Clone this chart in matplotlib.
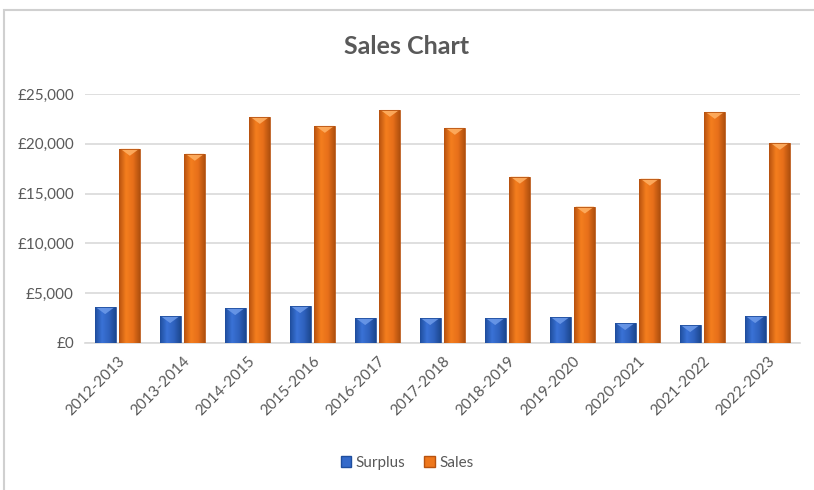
import matplotlib.pyplot as plt
from matplotlib.patches import Rectangle, Polygon
from matplotlib.colors import LinearSegmentedColormap
from matplotlib.ticker import FuncFormatter
import numpy as np

plt.rcParams['font.family'] = ['Lato', 'DejaVu Sans']

years = ['2012-2013', '2013-2014', '2014-2015', '2015-2016', '2016-2017', '2017-2018',
         '2018-2019', '2019-2020', '2020-2021', '2021-2022', '2022-2023']
surplus = [3600, 2700, 3500, 3700, 2500, 2500, 2500, 2600, 2000, 1800, 2700]
sales = [19500, 19000, 22700, 21800, 23400, 21600, 16700, 13700, 16500, 23200, 20100]

TEXT = '#595959'
GRID = '#D9D9D9'

fig = plt.figure(figsize=(8.14, 4.9), dpi=100)
# outer chart border (only left and top show in the screenshot)
fig.patches.append(Rectangle((4 / 814, -0.1), 1.2, 1.1 - 10 / 490, transform=fig.transFigure,
                             fill=False, edgecolor='#D0D0D0', linewidth=1.5))

ax = fig.add_axes([85 / 814, 1 - 343 / 490, 715 / 814, 249 / 490])

blue_cmap = LinearSegmentedColormap.from_list('b', ['#1F4E9E', '#3A72D6', '#2F62BE', '#1C478F'])
orange_cmap = LinearSegmentedColormap.from_list('o', ['#B8520F', '#F47E1E', '#E8701A', '#B0500E'])
blue_top = '#6E9BEA'
orange_top = '#FFB266'

x = np.arange(len(years))
w = 0.323
off = 0.19


def gradient_bars(xs, vals, cmap, top_col, label):
    bars = ax.bar(xs, vals, w, color=cmap(0.5), label=label, zorder=2)
    grad = np.linspace(0, 1, 64).reshape(1, -1)
    for b in bars:
        x0, h, bw = b.get_x(), b.get_height(), b.get_width()
        im = ax.imshow(grad, cmap=cmap, aspect='auto', extent=(x0, x0 + bw, 0, h), zorder=3)
        im.set_clip_path(b)
        d = min(700, h * 0.5)
        ax.add_patch(Polygon([(x0 + bw * 0.05, h), (x0 + bw * 0.95, h), (x0 + bw * 0.5, h - d)],
                             closed=True, facecolor=top_col, edgecolor='none', alpha=0.85, zorder=4))
        ax.add_patch(Rectangle((x0, 0), bw, h, fill=False, edgecolor=cmap(0.0), linewidth=0.6, zorder=5))
    return bars


gradient_bars(x - off, surplus, blue_cmap, blue_top, 'Surplus')
gradient_bars(x + off, sales, orange_cmap, orange_top, 'Sales')

ax.set_xlim(-0.5, len(years) - 0.5)
ax.set_ylim(0, 25000)
ax.set_yticks(np.arange(0, 25001, 5000))
ax.yaxis.set_major_formatter(FuncFormatter(lambda v, p: '£{:,.0f}'.format(v)))
ax.set_xticks(x)
ax.set_xticklabels(years, rotation=45, ha='right', rotation_mode='anchor')
ax.tick_params(axis='both', length=0, colors=TEXT, labelsize=11)
ax.tick_params(axis='x', pad=8)
ax.tick_params(axis='y', pad=8)
ax.grid(axis='y', color=GRID, linewidth=1.2, zorder=0)
for s in ['top', 'right', 'left']:
    ax.spines[s].set_visible(False)
ax.spines['bottom'].set_color(GRID)
ax.spines['bottom'].set_linewidth(1.2)

fig.text(0.5, 1 - 47 / 490, 'Sales Chart', ha='center', va='center', fontsize=18,
         fontweight='bold', color=TEXT)

handles = [Rectangle((0, 0), 1, 1, facecolor=blue_cmap(0.5), edgecolor=blue_cmap(0.0)),
           Rectangle((0, 0), 1, 1, facecolor=orange_cmap(0.5), edgecolor=orange_cmap(0.0))]
fig.legend(handles, ['Surplus', 'Sales'], loc='center', bbox_to_anchor=(0.5, 1 - 463 / 490),
           ncol=2, frameon=False, fontsize=11, labelcolor=TEXT, handlelength=0.7,
           handleheight=0.7, handletextpad=0.3, columnspacing=1.2)

fig.savefig('out.png', dpi=100)
